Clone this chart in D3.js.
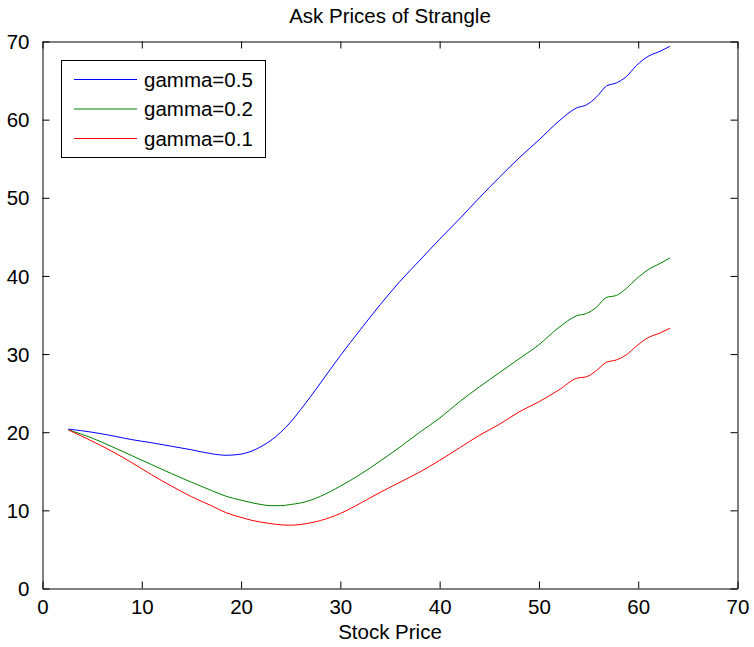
<!DOCTYPE html>
<html>
<head>
<meta charset="utf-8">
<script src="https://cdn.jsdelivr.net/npm/d3@7"></script>
<style>
  html, body { margin: 0; padding: 0; background: #fff; }
  svg { display: block; }
  text { font-family: "Liberation Sans", Arial, Helvetica, sans-serif; fill: #000; }
</style>
</head>
<body>
<svg id="chart" width="754" height="647"></svg>
<script>
// ---- data ----
const stockPrice = [2.6, 5, 7, 9, 11, 13, 15, 17, 18.5, 20, 21, 22, 23, 24, 25, 26, 27, 28, 30, 32, 34, 36, 38, 40, 42, 44, 46, 48, 50, 52, 53.8, 54.8, 55.8, 56.8, 57.8, 58.8, 59.8, 61, 62.2, 63.2];
const gamma05 = [20.4, 20.0, 19.55, 19.05, 18.65, 18.2, 17.75, 17.25, 17.05, 17.2, 17.55, 18.15, 18.95, 20.0, 21.3, 22.9, 24.55, 26.3, 29.8, 33.1, 36.3, 39.3, 42.0, 44.7, 47.3, 50.0, 52.6, 55.1, 57.4, 59.8, 61.5, 61.9, 62.9, 64.3, 64.7, 65.5, 66.9, 68.1, 68.75, 69.4];
const gamma02 = [20.3, 19.25, 18.15, 17.0, 15.85, 14.7, 13.6, 12.55, 11.8, 11.3, 11.0, 10.75, 10.6, 10.6, 10.75, 10.95, 11.3, 11.8, 13.1, 14.6, 16.3, 18.1, 20.0, 21.8, 23.9, 25.8, 27.6, 29.4, 31.2, 33.4, 34.9, 35.2, 36.0, 37.25, 37.5, 38.4, 39.6, 40.8, 41.6, 42.3];
const gamma01 = [20.3, 18.85, 17.55, 16.1, 14.55, 13.1, 11.75, 10.6, 9.7, 9.1, 8.75, 8.5, 8.3, 8.15, 8.1, 8.2, 8.4, 8.7, 9.6, 10.9, 12.3, 13.6, 14.9, 16.4, 18.0, 19.6, 21.0, 22.6, 23.9, 25.4, 26.9, 27.1, 27.9, 28.95, 29.25, 29.9, 31.0, 32.1, 32.7, 33.3];
const seriesNames = ["gamma=0.5", "gamma=0.2", "gamma=0.1"];
const seriesColors = ["#0000ff", "#008000", "#ff0000"];
const xTicks = [0, 10, 20, 30, 40, 50, 60, 70];
const yTicks = [0, 10, 20, 30, 40, 50, 60, 70];
const titleText = "Ask Prices of Strangle";
const xLabelText = "Stock Price";

// ---- layout ----
const svg = d3.select("#chart");
const L = 42.5, R = 737.5, T = 41.5, B = 588.5;
const x = d3.scaleLinear().domain([0, 70]).range([L, R]);
const y = d3.scaleLinear().domain([0, 70]).range([B, T]);
const fs = 20.5;
const tickLen = 7;

// axes with inward ticks
const gB = svg.append("g").attr("transform", `translate(0,${B})`)
  .call(d3.axisBottom(x).tickValues(xTicks).tickSizeInner(-tickLen).tickSizeOuter(0).tickPadding(11));
const gT = svg.append("g").attr("transform", `translate(0,${T})`)
  .call(d3.axisTop(x).tickValues(xTicks).tickSizeInner(-tickLen).tickSizeOuter(0).tickFormat(""));
const gLf = svg.append("g").attr("transform", `translate(${L},0)`)
  .call(d3.axisLeft(y).tickValues(yTicks).tickSizeInner(-tickLen).tickSizeOuter(0).tickPadding(13));
const gRt = svg.append("g").attr("transform", `translate(${R},0)`)
  .call(d3.axisRight(y).tickValues(yTicks).tickSizeInner(-tickLen).tickSizeOuter(0).tickFormat(""));

[gB, gT, gLf, gRt].forEach(g => {
  g.select(".domain").attr("stroke", "#000").attr("stroke-width", 1);
  g.selectAll(".tick line").attr("stroke", "#000").attr("stroke-width", 1);
  g.selectAll(".tick text").attr("font-size", fs).attr("font-family", "Liberation Sans, Arial, sans-serif").attr("fill", "#000");
});
gB.selectAll(".tick text").attr("dy", "0.71em");
gLf.selectAll(".tick text").attr("dy", "0.35em");

// lines
const allSeries = [gamma05, gamma02, gamma01];
const line = d3.line().x((d, i) => x(stockPrice[i])).y(d => y(d)).curve(d3.curveMonotoneX);
allSeries.forEach((vals, k) => {
  svg.append("path").datum(vals)
    .attr("fill", "none").attr("stroke", seriesColors[k]).attr("stroke-width", 1)
    .attr("d", line);
});

// title & label
svg.append("text").attr("x", (L + R) / 2).attr("y", 23).attr("text-anchor", "middle")
  .attr("font-size", fs).text(titleText);
svg.append("text").attr("x", (L + R) / 2).attr("y", 639).attr("text-anchor", "middle")
  .attr("font-size", fs).text(xLabelText);

// legend
const lg = svg.append("g");
lg.append("rect").attr("x", 61.5).attr("y", 60.5).attr("width", 204).attr("height", 97)
  .attr("fill", "#fff").attr("stroke", "#000").attr("stroke-width", 1);
seriesNames.forEach((name, k) => {
  const yy = 79.5 + k * 29.5;
  lg.append("line").attr("x1", 74).attr("x2", 137).attr("y1", yy).attr("y2", yy)
    .attr("stroke", seriesColors[k]).attr("stroke-width", 1);
  lg.append("text").attr("x", 144).attr("y", yy).attr("dy", "0.35em")
    .attr("font-size", fs).text(name);
});
</script>
</body>
</html>
